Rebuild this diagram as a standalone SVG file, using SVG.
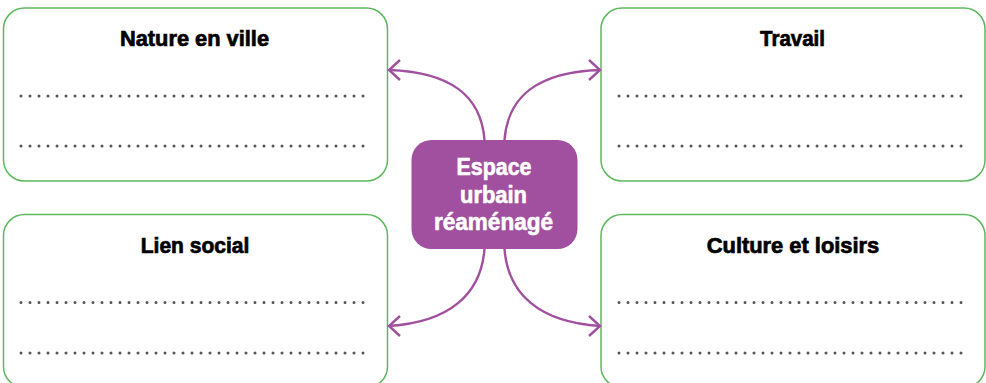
<svg xmlns="http://www.w3.org/2000/svg" width="986" height="383" viewBox="0 0 986 383">
<defs>
<style>
.box{fill:#fff;stroke:#5cb85c;stroke-width:1.5}
.title{font-family:"Liberation Sans Narrow","Liberation Sans",Arial,sans-serif;font-weight:bold;font-size:22px;fill:#000;stroke:#000;stroke-width:0.7;text-anchor:middle}
.ctext{font-family:"Liberation Sans Narrow","Liberation Sans",Arial,sans-serif;font-weight:bold;font-size:24px;fill:#fff;stroke:#fff;stroke-width:0.6;text-anchor:middle}
.dots{stroke:#555;stroke-width:3;stroke-linecap:round;stroke-dasharray:0 9;fill:none}
.conn{fill:none;stroke:#a0509e;stroke-width:2.4}
.head{fill:none;stroke:#a0509e;stroke-width:2.4;stroke-linejoin:miter}
</style>
</defs>
<g id="nature">
<rect class="box" x="3.5" y="8" width="384" height="173" rx="21"/>
<text class="title" x="194.5" y="46" textLength="149" lengthAdjust="spacingAndGlyphs">Nature en ville</text>
<line class="dots" x1="21" y1="96" x2="364" y2="96"/>
<line class="dots" x1="21" y1="146" x2="364" y2="146"/>
</g>
<g id="travail">
<rect class="box" x="601" y="8" width="384" height="173" rx="21"/>
<text class="title" x="792.5" y="46" textLength="65" lengthAdjust="spacingAndGlyphs">Travail</text>
<line class="dots" x1="619" y1="96" x2="963" y2="96"/>
<line class="dots" x1="619" y1="146" x2="963" y2="146"/>
</g>
<g id="lien">
<rect class="box" x="3.5" y="214.5" width="384" height="173" rx="21"/>
<text class="title" x="195" y="253" textLength="108.5" lengthAdjust="spacingAndGlyphs">Lien social</text>
<line class="dots" x1="21" y1="302.5" x2="364" y2="302.5"/>
<line class="dots" x1="21" y1="353" x2="364" y2="353"/>
</g>
<g id="culture">
<rect class="box" x="601" y="214.5" width="384" height="173" rx="21"/>
<text class="title" x="793" y="253" textLength="172.5" lengthAdjust="spacingAndGlyphs">Culture et loisirs</text>
<line class="dots" x1="619" y1="302.5" x2="963" y2="302.5"/>
<line class="dots" x1="619" y1="353" x2="963" y2="353"/>
</g>
<g id="connectors">
<path class="conn" d="M484.5,140 C481,95 450,72 389,70"/>
<polyline class="head" points="400,60 389,70 400,80"/>
<path class="conn" d="M504.5,140 C508,95 539,72 600,70"/>
<polyline class="head" points="589,60 600,70 589,80"/>
<path class="conn" d="M484.5,249 C481,294 450,322 389,326"/>
<polyline class="head" points="400,316 389,326 400,336"/>
<path class="conn" d="M504.5,249 C508,294 539,322 600,326"/>
<polyline class="head" points="589,316 600,326 589,336"/>
</g>
<g id="center">
<rect x="411.5" y="140" width="166" height="109" rx="20" fill="#a0509e"/>
<text class="ctext" x="494" y="175" textLength="75" lengthAdjust="spacingAndGlyphs">Espace</text>
<text class="ctext" x="493.5" y="202.5" textLength="67" lengthAdjust="spacingAndGlyphs">urbain</text>
<text class="ctext" x="493.5" y="230" textLength="119" lengthAdjust="spacingAndGlyphs">réaménagé</text>
</g>
</svg>
